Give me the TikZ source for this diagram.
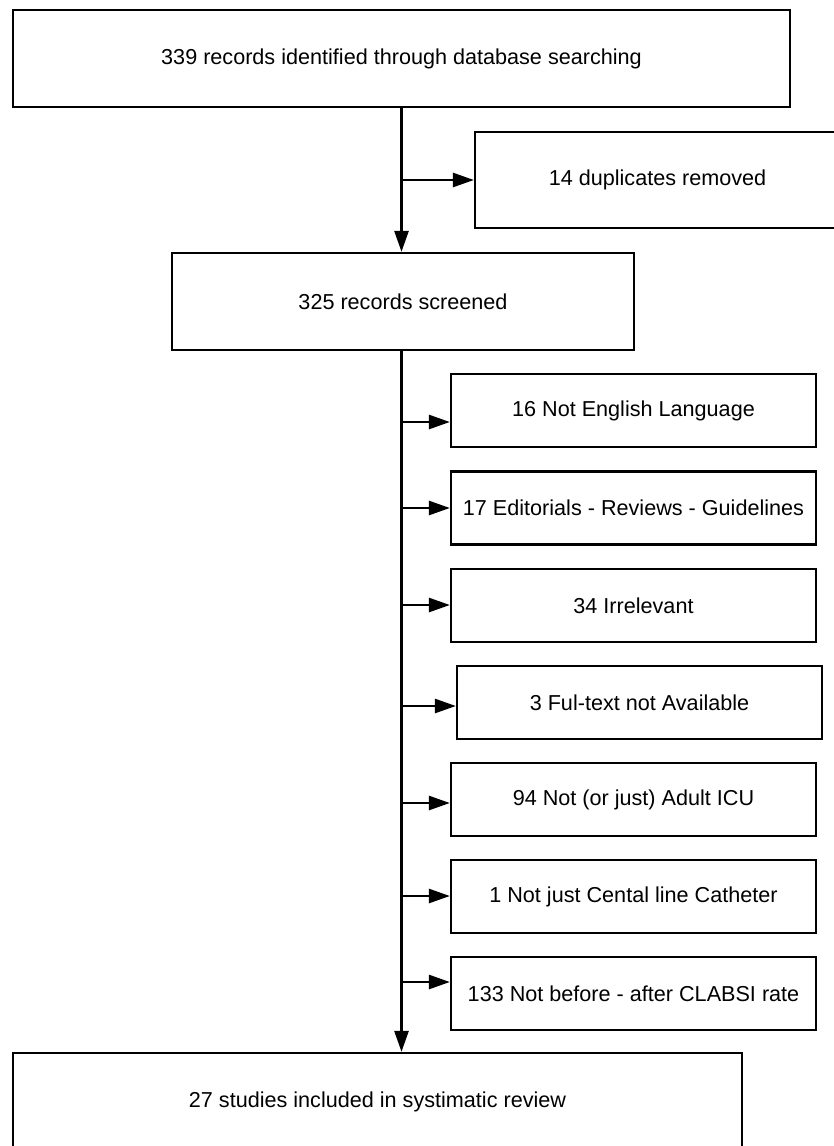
\documentclass[tikz,border=0pt]{standalone}
\usepackage{fontspec}
\setmainfont{Liberation Sans}
\usetikzlibrary{arrows.meta}

\begin{document}
\begin{tikzpicture}[x=0.02cm, y=-0.02cm,
    every node/.style={font=\fontsize{12.3}{15}\selectfont},
    flowbox/.style={draw, line width=1.3pt, rectangle, inner sep=2pt},
    exbox/.style={flowbox, minimum width=7.3cm, minimum height=1.46cm},
    flow/.style={line width=1.5pt, -{Triangle[length=12pt,width=8pt]}}]
  \useasboundingbox (0,0) rectangle (834,1146);
  \clip (0,0) rectangle (834,1146);
  % main stages
  \node[flowbox, minimum width=15.54cm, minimum height=1.94cm] (top) at (401.5,58.5) {339 records identified through database searching};
  \node[flowbox, minimum width=7.3cm, minimum height=1.92cm] (dup) at (657.5,180) {14 duplicates removed};
  \node[flowbox, minimum width=9.24cm, minimum height=1.94cm] (screen) at (403,301.5) {325 records screened};
  \node[flowbox, minimum width=14.58cm, minimum height=1.96cm] (incl) at (377.5,1102) {27 studies included in systimatic review};
  % exclusion reasons
  \node[exbox] (ex1) at (633.5,410.5) {16 Not English Language};
  \node[exbox] (ex2) at (633.5,508) {17 Editorials - Reviews - Guidelines};
  \node[exbox] (ex3) at (633.5,605.5) {34 Irrelevant};
  \node[exbox] (ex4) at (639.5,702.5) {3 Ful-text not Available};
  \node[exbox] (ex5) at (633.5,799.5) {94 Not (or just) Adult ICU};
  \node[exbox] (ex6) at (633.5,896.5) {1 Not just Cental line Catheter};
  \node[exbox] (ex7) at (633.5,993.5) {133 Not before - after CLABSI rate};
  % connectors
  \draw[flow] (top.south) -- (top.south |- screen.north);
  \draw[flow] (top.south |- dup.west) -- (dup.west);
  \draw[flow] (top.south |- screen.south) -- (top.south |- incl.north);
  \foreach \i/\y in {1/422, 2/508, 3/605, 4/706, 5/803, 6/896, 7/982}
    \draw[flow] (top.south |- 0,\y) -- (ex\i.west |- 0,\y);
\end{tikzpicture}
\end{document}
